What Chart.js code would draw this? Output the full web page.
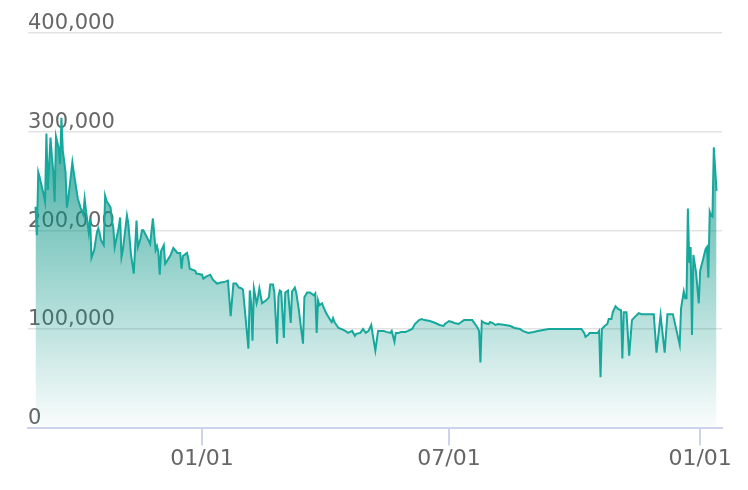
<!DOCTYPE html>
<html>
<head>
<meta charset="utf-8">
<script src="https://cdn.jsdelivr.net/npm/chart.js@4"></script>
<style>
  html, body { margin: 0; padding: 0; background: #fff; }
</style>
</head>
<body>
<canvas id="priceChart" width="748" height="490"></canvas>
<script>
// day offsets, counted from the first 01/01
const days = [-122,-121,-120,-119,-116,-115,-114,-113,-111,-110,-109,-108,-107,-105,-104,-103,-102,-100,-99,-98,
  -95,-94,-92,-91,-89,-87,-86,-85,-83,-82,-81,-79,-77,-76,-75,-74,-72,-71,-70,-67,
  -66,-65,-64,-61,-60,-59,-58,-55,-54,-52,-50,-48,-47,-45,-44,-43,-40,-38,-36,-34,
  -33,-32,-31,-30,-28,-27,-26,-23,-21,-18,-16,-15,-14,-11,-10,-9,-5,-4,-3,0,
  1,2,3,6,8,11,14,17,19,21,23,25,27,29,30,34,35,36,37,38,
  40,41,42,44,45,47,49,50,52,53,55,56,57,58,60,61,63,65,66,68,
  69,71,72,73,74,75,77,79,82,83,84,85,86,88,89,91,94,95,96,97,
  100,102,105,107,110,112,113,116,118,120,122,124,125,127,129,133,135,138,139,141,
  142,144,146,149,151,154,156,159,161,163,167,171,174,177,178,181,183,185,188,190,
  192,195,198,200,202,203,204,205,207,210,211,213,215,217,222,226,229,233,235,239,
  243,246,250,254,259,264,268,275,278,280,281,283,284,288,290,291,292,293,295,297,
  298,300,301,303,305,307,308,309,311,313,315,317,320,322,327,331,333,336,339,341,
  343,345,350,351,353,354,355,356,357,358,359,360,362,364,365,367,369,370,371,372,
  373,374,375,377];

const values = [224000,195000,259000,254000,236000,229000,298000,241000,294000,275000,260000,229000,295000,283000,267000,314000,281000,259000,223000,232000,
  269000,259000,241000,232000,223000,216000,232000,220000,198000,212000,172000,180000,198000,202000,197000,190000,185000,235000,230000,223000,
  210000,203000,183000,203000,213000,173000,180000,215000,207000,175000,156000,210000,183000,192000,200000,200000,192000,186000,212000,180000,
  184000,178000,155000,179000,185000,166000,168000,175000,182000,177000,177000,161000,174000,177000,171000,161000,159000,156000,156000,155000,
  151000,152000,153000,155000,150000,146000,147000,148000,149000,113000,146000,146000,142000,141000,140000,80000,139000,126000,88000,141000,
  126000,132000,141000,126000,127000,129000,132000,145000,145000,137000,85000,133000,139000,138000,91000,137000,139000,106000,138000,142000,
  137000,119000,107000,96000,85000,132000,137000,137000,134000,136000,96000,129000,124000,126000,122000,116000,109000,107000,111000,107000,
  101000,100000,98000,96000,98000,93000,95000,96000,100000,96000,98000,104000,95000,78000,98000,98000,97000,96000,98000,87000,
  96000,96000,97000,97000,98000,100000,105000,109000,110000,109000,108000,106000,104000,103000,105000,108000,107000,106000,105000,107000,
  109000,109000,109000,105000,101000,98000,66000,108000,106000,105000,107000,106000,104000,105000,104000,103000,101000,100000,98000,96000,
  97000,98000,99000,100000,100000,100000,100000,100000,100000,96000,92000,94000,96000,96000,96000,98000,51000,100000,103000,105000,
  110000,110000,117000,123000,120000,119000,70000,117000,117000,73000,109000,112000,116000,115000,115000,115000,76000,114000,76000,115000,
  115000,115000,84000,121000,138000,131000,131000,222000,167000,183000,94000,175000,157000,126000,159000,170000,181000,183000,152000,219000,
  215000,214000,284000,240000];

const tickDays = [0, 181, 365];
const tickLabels = ['01/01', '07/01', '01/01'];

const teal = 'rgb(22, 168, 156)';
const axisBlue = '#cdd3ea';

Chart.defaults.font.family = "'DejaVu Sans', sans-serif";
Chart.defaults.color = '#666';

const ctx = document.getElementById('priceChart').getContext('2d');
const priceChart = new Chart(ctx, {
  type: 'line',
  data: {
    datasets: [{
      data: days.map((d, i) => ({ x: d, y: values[i] })),
      borderColor: teal,
      borderWidth: 2,
      pointRadius: 0,
      tension: 0,
      fill: 'origin',
      backgroundColor: function (context) {
        const area = context.chart.chartArea;
        if (!area) return 'rgba(0,145,130,0.3)';
        const g = context.chart.ctx.createLinearGradient(0, area.top, 0, area.bottom);
        g.addColorStop(0, 'rgba(0,145,130,0.85)');
        g.addColorStop(0.2, 'rgba(0,145,130,0.78)');
        g.addColorStop(1, 'rgba(0,145,130,0.02)');
        return g;
      }
    }]
  },
  options: {
    responsive: false,
    animation: false,
    layout: { padding: { left: 28, right: 26, top: 33, bottom: 18 } },
    plugins: { legend: { display: false }, tooltip: { enabled: false } },
    scales: {
      x: {
        type: 'linear',
        min: -127.5,
        max: 381,
        afterBuildTicks: (axis) => { axis.ticks = tickDays.map(v => ({ value: v })); },
        ticks: {
          autoSkip: false,
          maxRotation: 0,
          padding: 0,
          font: { size: 22 },
          callback: (value) => tickLabels[tickDays.indexOf(value)]
        },
        grid: { drawOnChartArea: false, color: axisBlue, lineWidth: 2, tickLength: 18 },
        border: { color: axisBlue, width: 2 }
      },
      y: {
        min: 0,
        max: 400000,
        ticks: {
          stepSize: 100000,
          mirror: true,
          padding: 0,
          labelOffset: -9,
          font: { size: 21 },
          callback: (value) => value.toLocaleString('en-US')
        },
        grid: { color: '#e3e3e3', lineWidth: 1.5, drawTicks: false },
        border: { display: false }
      }
    }
  }
});
</script>
</body>
</html>
